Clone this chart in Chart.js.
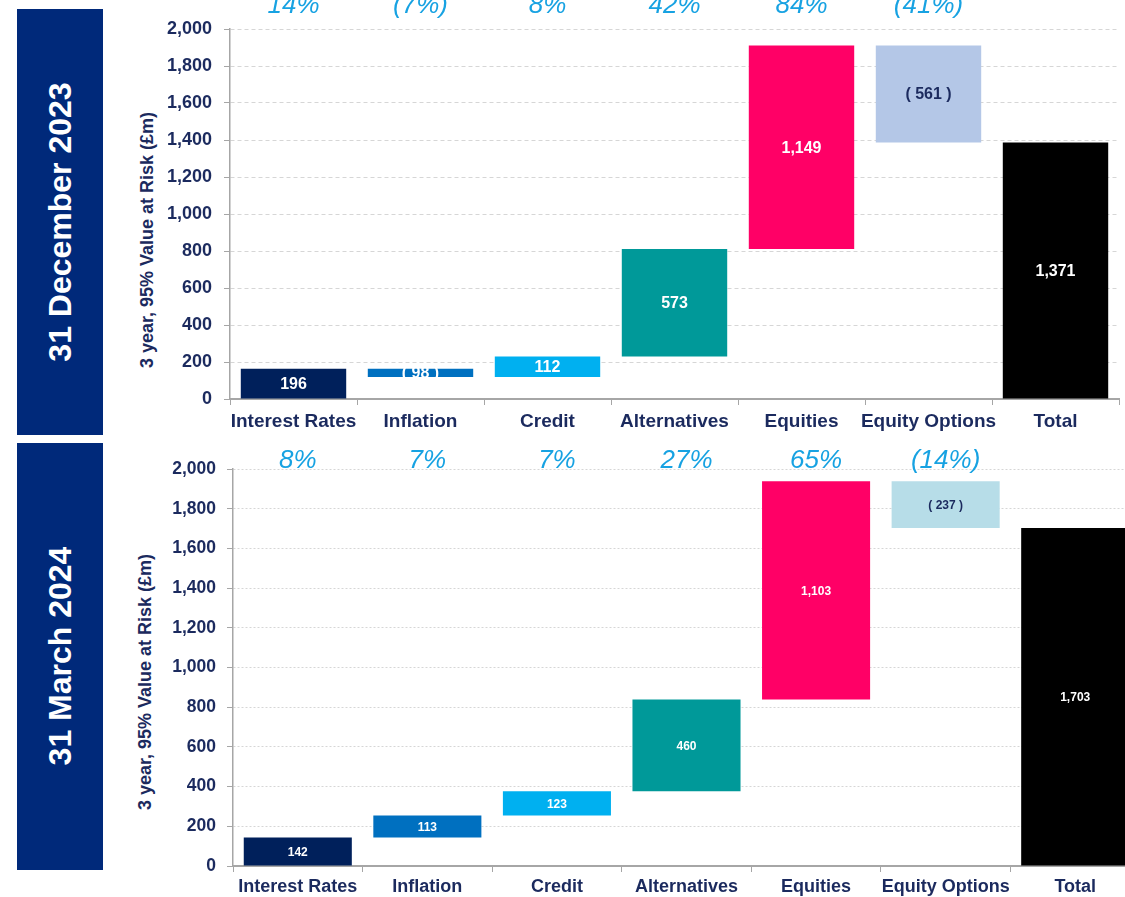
<!DOCTYPE html>
<html>
<head>
<meta charset="utf-8">
<script src="https://cdn.jsdelivr.net/npm/chart.js@4.4.1/dist/chart.umd.min.js"></script>
<style>
  body { margin: 0; background: #fff; font-family: "Liberation Sans", Arial, sans-serif; }
  #page { position: relative; width: 1125px; height: 897px; overflow: hidden; }
  .band { position: absolute; left: 17px; width: 86px; background: #00297a; }
  .vtext { position: absolute; white-space: nowrap; transform: translate(-50%, -50%) rotate(-90deg); font-weight: bold; }
  .bandText { color: #fff; font-size: 32px; }
  .yTitle { color: #1b2a5e; font-size: 18px; }
  canvas { position: absolute; }
</style>
</head>
<body>
<div id="page">
  <div class="band" style="top:9px;height:426px"></div>
  <div class="band" style="top:443px;height:427px"></div>
  <div class="vtext bandText" style="left:60px;top:222px">31 December 2023</div>
  <div class="vtext bandText" style="left:60px;top:656px">31 March 2024</div>
  <div class="vtext yTitle" style="left:147px;top:240px">3 year, 95% Value at Risk (£m)</div>
  <div class="vtext yTitle" style="left:145px;top:682px">3 year, 95% Value at Risk (£m)</div>
  <canvas id="decChart" width="986" height="440" style="left:139px;top:0px"></canvas>
  <canvas id="marChart" width="1008" height="457" style="left:138px;top:440px"></canvas>
</div>
<script>
// categories shared by both panels
const categories = ['Interest Rates', 'Inflation', 'Credit', 'Alternatives', 'Equities', 'Equity Options', 'Total'];

// 31 December 2023 - bar start / end as drawn (£m)
const decBase = [0, 119, 119, 230, 811, 1387, 0];
const decTop = [164, 164, 230, 811, 1911, 1911, 1387];
const decLabels = ['196', '( 98 )', '112', '573', '1,149', '( 561 )', '1,371'];
const decShares = ['14%', '(7%)', '8%', '42%', '84%', '(41%)', ''];

// 31 March 2024
const marBase = [0, 143, 254, 377, 839, 1703, 0];
const marTop = [143, 254, 377, 839, 1938, 1938, 1703];
const marLabels = ['142', '113', '123', '460', '1,103', '( 237 )', '1,703'];
const marShares = ['8%', '7%', '7%', '27%', '65%', '(14%)', ''];

const yTicks = [0, 200, 400, 600, 800, 1000, 1200, 1400, 1600, 1800, 2000];

const FONT = '"Liberation Sans", Arial, sans-serif';
const NAVY = '#1b2a5e';
const decColors = ['#00205b', '#0070c0', '#00b0f0', '#009999', '#ff0066', '#b4c7e7', '#000000'];
const marColors = ['#00205b', '#0070c0', '#00b0f0', '#009999', '#ff0066', '#b7dde8', '#000000'];
const labelColors = ['#fff', '#fff', '#fff', '#fff', '#fff', NAVY, '#fff'];

// draws value labels inside bars and the % shares above the plot
const labelPlugin = {
    id: 'barLabels',
    afterDatasetsDraw(chart, args, opts) {
        const ctx = chart.ctx;
        const meta = chart.getDatasetMeta(0);
        const xScale = chart.scales.x;
        ctx.save();
        ctx.textAlign = 'center';
        meta.data.forEach((bar, i) => {
            ctx.font = 'bold ' + opts.labelSize + 'px ' + FONT;
            ctx.fillStyle = labelColors[i];
            ctx.textBaseline = 'middle';
            ctx.fillText(opts.labels[i], bar.x, (bar.y + bar.base) / 2 + 1);
            if (opts.shares[i]) {
                ctx.font = 'italic ' + opts.shareSize + 'px ' + FONT;
                ctx.fillStyle = '#17a2e2';
                ctx.textBaseline = 'alphabetic';
                ctx.fillText(opts.shares[i], xScale.getPixelForValue(i), chart.chartArea.top + opts.shareOffset);
            }
        });
        ctx.restore();
    }
};

function makeChart(id, base, top, colors, labels, shares, cfg) {
    const ctx = document.getElementById(id).getContext('2d');
    return new Chart(ctx, {
        type: 'bar',
        data: {
            labels: categories,
            datasets: [{
                data: base.map((b, i) => [b, top[i]]),
                backgroundColor: colors,
                borderWidth: 0,
                categoryPercentage: 1,
                barPercentage: cfg.barPct,
            }],
        },
        options: {
            responsive: false,
            animation: false,
            layout: { padding: { top: 29, right: 6, bottom: 0, left: 0 } },
            plugins: {
                legend: { display: false },
                tooltip: { enabled: false },
                barLabels: {
                    labels: labels,
                    shares: shares,
                    labelSize: cfg.labelSize,
                    shareSize: 26,
                    shareOffset: cfg.shareOffset,
                },
            },
            scales: {
                x: {
                    afterFit: s => { s.height = cfg.xHeight; },
                    grid: { drawOnChartArea: false, drawTicks: true, tickLength: 6, tickColor: '#a6a6a6' },
                    border: { color: '#a6a6a6', width: 2 },
                    ticks: {
                        color: NAVY,
                        font: { family: FONT, size: cfg.catSize, weight: 'bold' },
                        padding: cfg.xPad,
                        maxRotation: 0,
                        minRotation: 0,
                        autoSkip: false,
                    },
                },
                y: {
                    min: 0,
                    max: 2000,
                    afterFit: s => { s.width = cfg.yWidth; },
                    afterBuildTicks: s => { s.ticks = yTicks.map(v => ({ value: v })); },
                    grid: { color: '#d6d6d6', tickColor: '#a6a6a6', tickLength: 6 },
                    border: { color: '#a6a6a6', width: 1.5, dash: cfg.dash },
                    ticks: {
                        color: NAVY,
                        font: { family: FONT, size: cfg.tickSize, weight: 'bold' },
                        padding: cfg.yPad,
                        callback: v => v.toLocaleString('en-US'),
                    },
                },
            },
        },
        plugins: [labelPlugin],
    });
}

makeChart('decChart', decBase, decTop, decColors, decLabels, decShares, {
    barPct: 0.83, labelSize: 16, shareOffset: -16, xHeight: 41, xPad: 5,
    catSize: 19, yWidth: 91, yPad: 12, tickSize: 18, dash: [4, 3],
});

makeChart('marChart', marBase, marTop, marColors, marLabels, marShares, {
    barPct: 0.834, labelSize: 12, shareOffset: -1, xHeight: 31, xPad: 4,
    catSize: 18, yWidth: 95, yPad: 11, tickSize: 17.5, dash: [2, 2],
});
</script>
</body>
</html>
